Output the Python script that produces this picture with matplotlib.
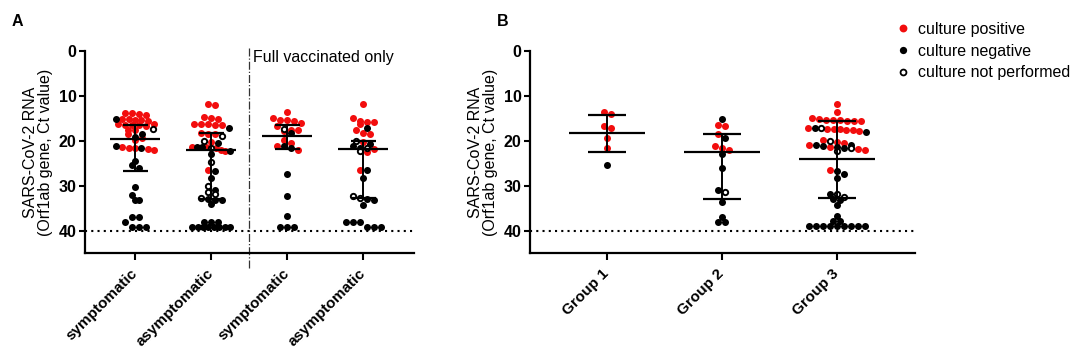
#!/usr/bin/env python3
import numpy as np
import matplotlib
matplotlib.use("Agg")
import matplotlib.pyplot as plt
from matplotlib.lines import Line2D
import matplotlib.transforms as mtransforms

plt.rcParams["font.family"] = ["Liberation Sans", "DejaVu Sans"]

# ---- data (Ct values) ----
labels_a = ["symptomatic", "asymptomatic", "symptomatic", "asymptomatic"]
labels_b = ["Group 1", "Group 2", "Group 3"]

a1_pos = [13.8, 13.8, 14.1, 14.2, 15.2, 15.2, 15.3, 15.4, 15.5, 16.2, 16.3, 16.4, 16.5,
          16.5, 16.6, 17.5, 17.7, 18.6, 19.4, 19.9, 21.3, 21.5, 21.6, 21.8, 22.0]
a1_neg = [15.1, 18.5, 19.2, 21.1, 21.6, 24.4, 25.5, 26.1, 30.2, 32.1, 33.1, 33.3, 36.9,
          36.9, 38.2, 39.1, 39.1, 39.1]
a1_nd = [17.3]

a2_pos = [11.7, 12.1, 14.7, 14.9, 15.1, 16.2, 16.2, 16.3, 16.4, 16.5, 18.3, 18.4, 18.4,
          20.2, 21.3, 21.4, 21.6, 22.0, 22.2, 26.5]
a2_neg = [17.1, 20.6, 21.3, 21.3, 22.3, 22.9, 26.7, 28.4, 31.0, 33.0, 33.1, 33.1, 34.0,
          38.0, 38.2, 38.2, 39.2, 39.2, 39.2, 39.2, 39.2, 39.2, 39.2, 39.2]
a2_nd = [19.0, 20.0, 21.5, 24.7, 30.0, 31.4, 31.9, 32.7]

a3_pos = [13.6, 15.0, 15.3, 15.4, 15.6, 16.0, 16.7, 17.5, 17.6, 17.9, 19.8, 20.4, 21.1, 22.0]
a3_neg = [18.3, 21.1, 21.6, 27.3, 32.2, 36.7, 39.1, 39.1, 39.1]
a3_nd = [17.4]

a4_pos = [11.7, 14.9, 15.7, 15.8, 15.9, 16.2, 17.6, 18.2, 18.4, 20.2, 21.9, 22.6, 26.4]
a4_neg = [17.1, 20.8, 21.2, 21.6, 26.6, 28.3, 33.0, 33.1, 34.3, 38.2, 38.2, 38.2,
          39.1, 39.1, 39.1]
a4_nd = [20.0, 21.6, 22.3, 32.2, 32.8]

b1_pos = [13.7, 14.1, 16.8, 17.2, 19.4, 21.5]
b1_neg = [25.5]
b1_nd = []

b2_pos = [16.4, 16.6, 18.4, 21.2, 21.5, 22.1]
b2_neg = [15.1, 19.3, 23.0, 26.1, 31.0, 33.6, 36.9, 38.1, 38.1]
b2_nd = [31.3]

b3_pos = [11.7, 13.6, 15.0, 15.2, 15.3, 15.4, 15.4, 15.5, 15.6, 15.7, 17.2, 17.3, 17.4,
          17.4, 17.5, 17.6, 17.8, 19.8, 20.2, 20.6, 21.0, 21.4, 21.8, 22.0, 26.4]
b3_neg = [17.2, 18.0, 20.9, 21.0, 21.2, 21.4, 21.5, 26.7, 27.3, 28.3, 31.9, 33.0, 33.2,
          34.2, 36.7, 37.9, 37.9, 39.0, 39.0, 39.0, 39.0, 39.0, 39.0, 39.0, 39.0, 39.0]
b3_nd = [17.2, 20.0, 21.5, 22.2, 31.9, 32.6]

# median / interquartile range as drawn
med_a = [19.7, 22.1, 19.0, 21.8]
q1_a = [16.5, 18.2, 16.5, 20.1]
q3_a = [26.8, 33.0, 21.8, 32.8]
med_b = [18.3, 22.4, 24.1]
q1_b = [14.2, 18.5, 15.6]
q3_b = [22.5, 33.0, 32.7]

groups_a = [(a1_pos, a1_neg, a1_nd), (a2_pos, a2_neg, a2_nd),
            (a3_pos, a3_neg, a3_nd), (a4_pos, a4_neg, a4_nd)]
groups_b = [(b1_pos, b1_neg, b1_nd), (b2_pos, b2_neg, b2_nd), (b3_pos, b3_neg, b3_nd)]

RED = "#f20d0d"
W, H, DPI = 10.84, 3.51, 100
DOT = 7.0  # marker diameter in px
MS = DOT * 72 / DPI


def row_offsets(vals, row_h, step, max_w):
    """Prism-like scatter: bin values into rows, spread each row around the centre."""
    order = np.argsort(vals, kind="mergesort")
    rows, cur = [], [order[0]]
    for i in order[1:]:
        if vals[i] - vals[cur[0]] < row_h:
            cur.append(i)
        else:
            rows.append(cur)
            cur = [i]
    rows.append(cur)
    out = np.zeros(len(vals))
    for r in rows:
        n = len(r)
        s = step if n < 2 else min(step, max_w / (n - 1))
        for j, i in enumerate(r):
            out[i] = (j - (n - 1) / 2) * s
    return out


def draw_panel(ax, groups, med, q1, q3, labels, xlim, ax_px):
    ax.set_xlim(*xlim)
    ax.set_ylim(45, 0)
    px_x = ax_px[0] / (xlim[1] - xlim[0])
    for k, (pos, neg, nd) in enumerate(groups, start=1):
        vals = np.array(list(pos) + list(neg) + list(nd), dtype=float)
        kind = np.array([0] * len(pos) + [1] * len(neg) + [2] * len(nd))
        off = row_offsets(vals, 1.1, 7.0, 0.5 * px_x) / px_x
        x = k + off
        ax.plot(x[kind == 0], vals[kind == 0], "o", ms=MS, mfc=RED, mec=RED, mew=0, zorder=2)
        ax.plot(x[kind == 1], vals[kind == 1], "o", ms=MS, mfc="black", mec="black", mew=0, zorder=2)
        ax.plot(x[kind == 2], vals[kind == 2], "o", ms=MS - 1.2, mfc="white", mec="black", mew=1.4, zorder=2)
        # median with interquartile range
        ax.hlines(med[k - 1], k - 0.33, k + 0.33, color="black", lw=1.6, zorder=3)
        ax.hlines([q1[k - 1], q3[k - 1]], k - 0.165, k + 0.165, color="black", lw=1.6, zorder=3)
        ax.vlines(k, q1[k - 1], q3[k - 1], color="black", lw=1.4, zorder=3)

    ax.axhline(40, color="black", lw=1.5, ls=(0, (1, 2)), zorder=1)
    ax.set_yticks([0, 10, 20, 30, 40])
    ax.set_xticks(range(1, len(groups) + 1))
    ax.set_xticklabels(labels, rotation=45, ha="right", va="center",
                       rotation_mode="anchor", fontweight="bold", fontsize=11)
    for t in ax.get_yticklabels():
        t.set_fontweight("bold")
        t.set_fontsize(11.5)
    ax.tick_params(axis="y", length=4, width=1.5, pad=2)
    ax.tick_params(axis="x", length=5, width=1.5, pad=8)
    for s in ["top", "right"]:
        ax.spines[s].set_visible(False)
    for s in ["left", "bottom"]:
        ax.spines[s].set_linewidth(1.6)
    ax.set_ylabel("SARS-CoV-2 RNA\n(Orf1ab gene, Ct value)", fontsize=11.5, labelpad=4,
                  linespacing=1.05)


fig = plt.figure(figsize=(W, H), dpi=DPI)
top, bot = 51, 253
axA = fig.add_axes([85 / 1084, 1 - bot / 351, (414 - 85) / 1084, (bot - top) / 351])
axB = fig.add_axes([530 / 1084, 1 - bot / 351, (915 - 530) / 1084, (bot - top) / 351])

draw_panel(axA, groups_a, med_a, q1_a, q3_a, labels_a, (0.34, 4.67), (414 - 85, bot - top))
draw_panel(axB, groups_b, med_b, q1_b, q3_b, labels_b, (0.33, 3.68), (915 - 530, bot - top))

# separator for the vaccinated subgroup
trans = mtransforms.blended_transform_factory(axA.transData, axA.transAxes)
axA.plot([2.5, 2.5], [-0.075, 1.015], transform=trans, clip_on=False,
         color="#333333", lw=0.9, ls="-.")
axA.text(2.55, 1.4, "Full vaccinated only", fontsize=11.5, ha="left", va="center")

fig.text(12 / 1084, 1 - 21 / 351, "A", fontsize=11.5, fontweight="bold", va="center")
fig.text(497 / 1084, 1 - 21 / 351, "B", fontsize=11.5, fontweight="bold", va="center")

handles = [
    Line2D([], [], ls="", marker="o", ms=MS + 0.6, mfc=RED, mec=RED, mew=0),
    Line2D([], [], ls="", marker="o", ms=MS + 0.2, mfc="black", mec="black", mew=0),
    Line2D([], [], ls="", marker="o", ms=MS - 0.8, mfc="white", mec="black", mew=1.3),
]
fig.legend(handles, ["culture positive", "culture negative", "culture not performed"],
           loc="upper left", bbox_to_anchor=(897 / 1084, 1 - 22 / 351), frameon=False,
           fontsize=11.5, handlelength=0.8, handletextpad=0.5, labelspacing=0.42,
           borderpad=0, borderaxespad=0)

fig.savefig("out.png", dpi=DPI)
